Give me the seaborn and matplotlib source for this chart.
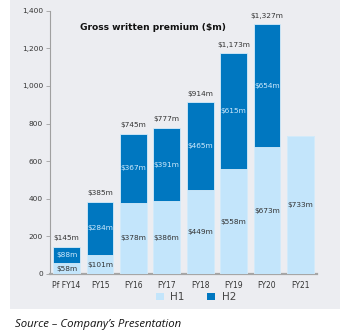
import matplotlib
matplotlib.use("Agg")
import matplotlib.pyplot as plt
import seaborn as sns
import pandas as pd
from matplotlib.patches import Rectangle, Patch

categories = ["Pf FY14", "FY15", "FY16", "FY17", "FY18", "FY19", "FY20", "FY21"]
h1 = [58, 101, 378, 386, 449, 558, 673, 733]
h2 = [88, 284, 367, 391, 465, 615, 654, 0]
totals = [145, 385, 745, 777, 914, 1173, 1327, None]
yticks = [0, 200, 400, 600, 800, 1000, 1200, 1400]

C_H1 = "#c3e5fb"
C_H2 = "#0077c0"
PANEL = "#ecedf1"
TXT = "#333333"

sns.set_theme(style="white")
plt.rcParams["font.family"] = ["DejaVu Sans"]

W, H = 347, 336
fig = plt.figure(figsize=(W / 100, H / 100), dpi=100)
fig.patch.set_facecolor("white")
fig.add_artist(Rectangle((10 / W, 1 - 309 / H), 330 / W, 309 / H,
                         transform=fig.transFigure, facecolor=PANEL,
                         edgecolor="none", zorder=0))

ax = fig.add_axes([50 / W, 1 - 274 / H, 267 / W, 263.3 / H])
ax.set_facecolor("none")

df = pd.DataFrame({"cat": categories, "h1": h1, "h2": h2})
df["stack"] = df["h1"] + df["h2"]

sns.barplot(data=df, x="cat", y="stack", color=C_H2, saturation=1,
            width=0.8, ax=ax, edgecolor="#d6ecfa", linewidth=0.6, zorder=2)
sns.barplot(data=df, x="cat", y="h1", color=C_H1, saturation=1,
            width=0.8, ax=ax, edgecolor="#d6ecfa", linewidth=0.6, zorder=3)

ax.set_xlim(-0.5, 7.5)
ax.set_ylim(0, 1400)
ax.set_yticks(yticks)
ax.set_yticklabels([f"{v:,}" for v in yticks], fontsize=5.3, color=TXT)
ax.tick_params(axis="y", length=3, width=0.6, color="#a0a0a0", pad=2, left=True)
ax.tick_params(axis="x", length=0, pad=5, labelsize=5.5, labelcolor=TXT)
ax.set_xlabel("")
ax.set_ylabel("")
for s in ["top", "right"]:
    ax.spines[s].set_visible(False)
ax.spines["left"].set_color("#a0a0a0")
ax.spines["left"].set_linewidth(0.8)
ax.spines["bottom"].set_color("#a6a6a6")
ax.spines["bottom"].set_linewidth(1.6)

for i, cat in enumerate(categories):
    a, b = h1[i], h2[i]
    ax.text(i, a / 2, f"${a}m", ha="center", va="center", fontsize=5.3, color=TXT, zorder=5)
    if b:
        ax.text(i, a + b / 2, f"${b}m", ha="center", va="center", fontsize=5.3,
                color="#cfeafc", zorder=5)
    if totals[i] is not None:
        ax.annotate(f"${totals[i]:,}m", xy=(i, a + b), xytext=(0, 4),
                    textcoords="offset points", ha="center", va="bottom",
                    fontsize=5.3, color=TXT, zorder=5)

ax.text(0.386, 1310, "Gross written premium ($m)", transform=ax.get_yaxis_transform(),
        ha="center", va="center", fontsize=6.6, fontweight="bold", color="#111111")

handles = [Patch(facecolor=C_H1, edgecolor="none", label="H1"),
           Patch(facecolor=C_H2, edgecolor="none", label="H2")]
fig.legend(handles=handles, loc="center", bbox_to_anchor=(196 / W, 1 - 297 / H),
           ncol=2, frameon=False, fontsize=7.5, handlelength=0.75, handleheight=0.75,
           handletextpad=0.6, columnspacing=2.2, labelcolor="#444444")

fig.text(15 / W, 1 - 325 / H, "Source \u2013 Company\u2019s Presentation",
         fontsize=8.2, fontstyle="italic", family="Open Sans", color="#111111",
         ha="left", va="center")

fig.savefig("out.png", dpi=100, facecolor="white")
